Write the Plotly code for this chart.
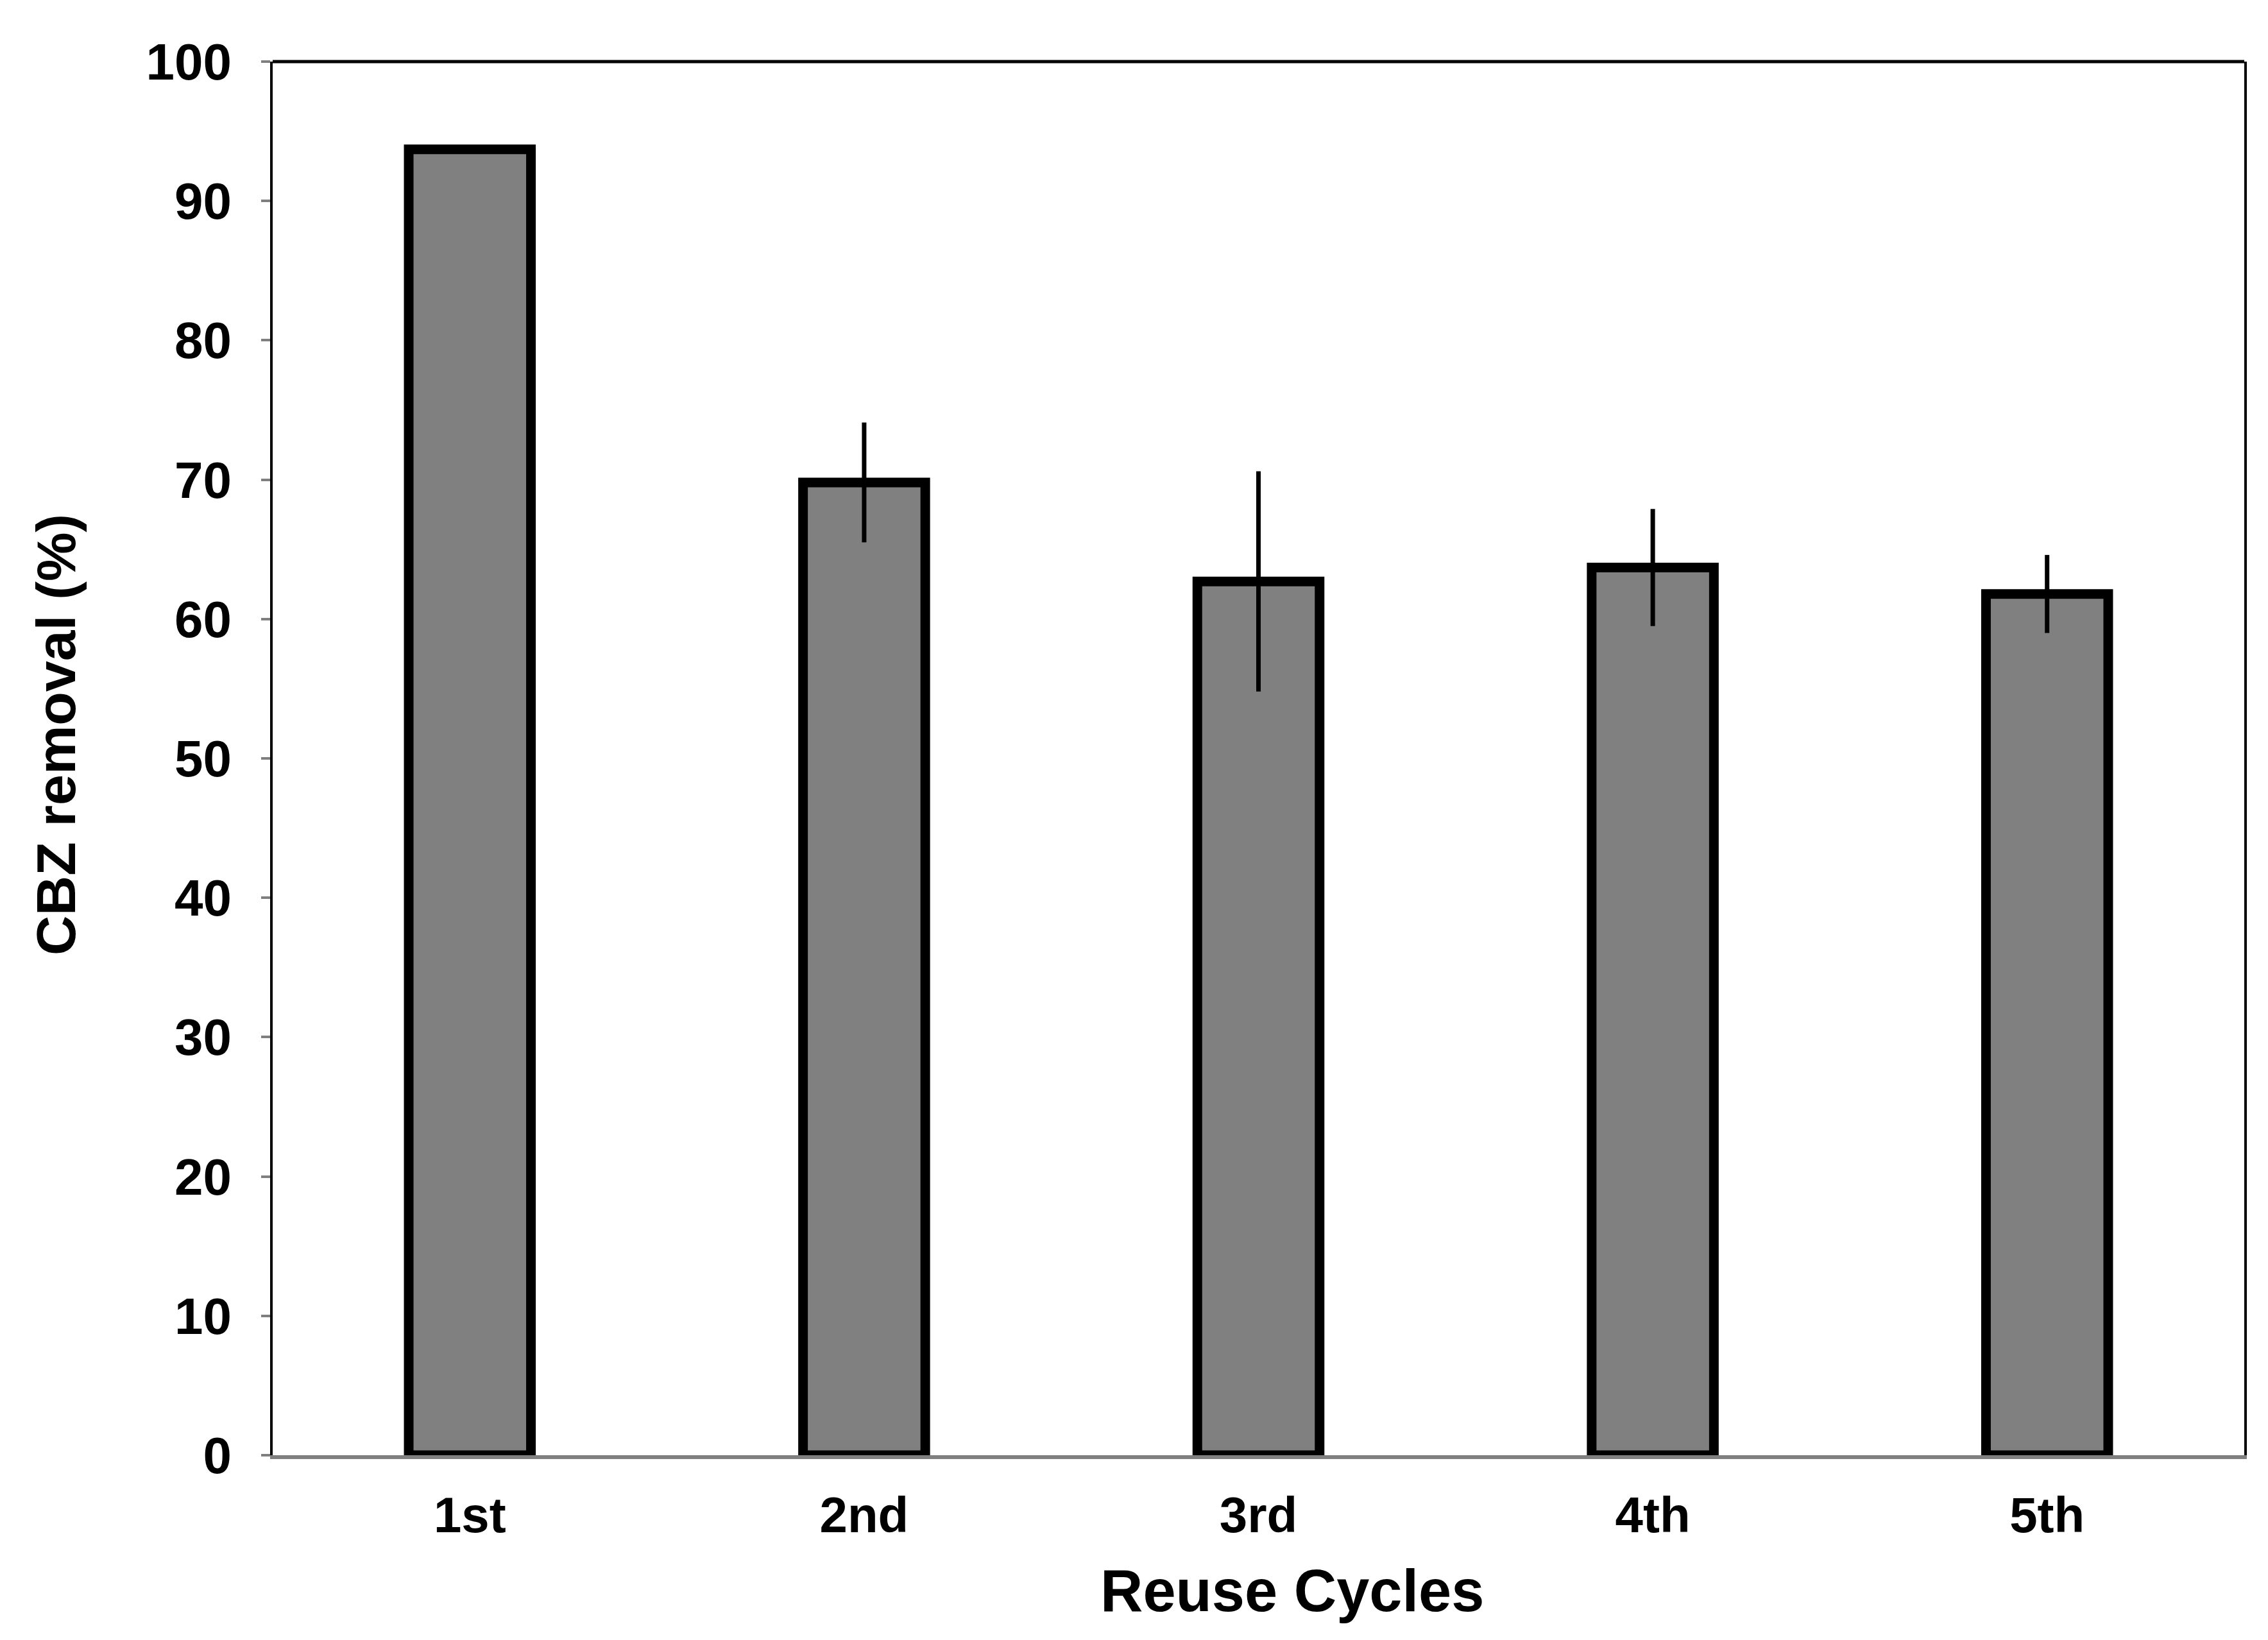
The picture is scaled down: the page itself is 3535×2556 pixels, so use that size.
import plotly.graph_objects as go

cycles = ["1st", "2nd", "3rd", "4th", "5th"]
removal = [93.7, 69.8, 62.7, 63.7, 61.8]
err = [0.3, 4.3, 7.9, 4.2, 2.8]
y_ticks = [0, 10, 20, 30, 40, 50, 60, 70, 80, 90, 100]

FONT = "Liberation Sans, Arial, sans-serif"

fig = go.Figure()
fig.add_trace(go.Bar(
    x=cycles, y=removal, width=0.31,
    marker=dict(color="#808080", line=dict(color="black", width=15)),
    error_y=dict(type="data", array=err, visible=True, color="black", thickness=7, width=0),
))

fig.update_layout(
    width=3535, height=2556,
    paper_bgcolor="white", plot_bgcolor="white",
    margin=dict(l=417, r=45, t=88, b=296),
    showlegend=False,
    font=dict(family=FONT, color="black"),
    xaxis=dict(
        showline=True, linecolor="#7f7f7f", linewidth=6,
        ticks="", showgrid=False,
        tickfont=dict(size=78, family=FONT, weight="bold"),
        ticklabelstandoff=20,
    ),
    yaxis=dict(
        range=[0, 100], tickvals=y_ticks,
        showline=True, linecolor="black", linewidth=4, mirror=True,
        ticks="outside", ticklen=14, tickcolor="#7f7f7f", tickwidth=4,
        showgrid=False, zeroline=False,
        tickfont=dict(size=80, family=FONT, weight="bold"),
        ticklabelstandoff=30,
    ),
    shapes=[dict(type="line", xref="paper", yref="paper", x0=0, x1=1, y0=1, y1=1,
                 line=dict(color="black", width=5))],
    annotations=[
        dict(text="Reuse Cycles", xref="paper", yref="paper", x=0.517, y=-0.097,
             xanchor="center", yanchor="middle", showarrow=False,
             font=dict(size=92, family=FONT, weight="bold", color="black")),
        dict(text="CBZ removal (%)", xref="paper", yref="paper", x=-0.110, y=0.517,
             xanchor="center", yanchor="middle", showarrow=False, textangle=-90,
             font=dict(size=86, family=FONT, weight="bold", color="black")),
    ],
)

fig.write_html("out.html")
